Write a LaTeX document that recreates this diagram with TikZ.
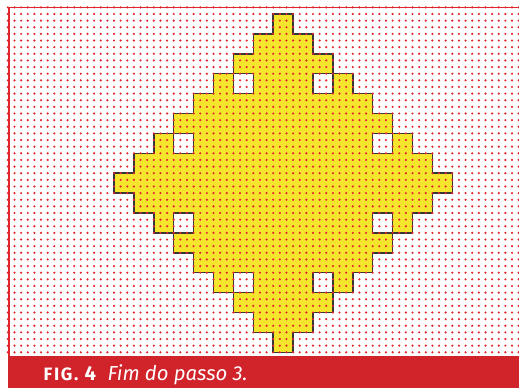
\documentclass[tikz,border=0pt]{standalone}
\usepackage{fontspec}
\setmainfont{Fira Sans}
\definecolor{dotred}{RGB}{226,36,44}
\definecolor{barred}{RGB}{208,35,42}
\definecolor{shapeyellow}{RGB}{245,230,45}
\definecolor{edgegray}{RGB}{55,55,55}
\tikzset{
  cellshape/.style={fill=shapeyellow},
  holecell/.style={fill=white},
  outline/.style={draw=edgegray,line width=1.5pt,line join=miter},
  dotrow/.style={draw=dotred,line width=2.4pt,line cap=round,dash pattern=on 0pt off 6.6333pt},
  frameline/.style={draw=dotred,line width=1.8pt},
  captext/.style={anchor=base west,inner sep=0pt,text=white}
}
\begin{document}
\begin{tikzpicture}[x=1pt,y=-1pt]
\useasboundingbox (0,0) rectangle (519,388);
\begin{scope}[shift={(114,14)},x=19.9pt,y=-19.9pt]
  \path[cellshape,outline] (8,0) -- (9,0) |- (10,1) |- (11,2) |- (12,3) |- (13,4) |- (14,5) |- (15,6) |- (16,7) |- (17,8) -- (17,9)
    -| (16,10) -| (15,11) -| (14,12) -| (13,13) -| (12,14) -| (11,15) -| (10,16) -| (9,17) -- (8,17)
    |- (7,16) |- (6,15) |- (5,14) |- (4,13) |- (3,12) |- (2,11) |- (1,10) |- (0,9) -- (0,8)
    -| (1,7) -| (2,6) -| (3,5) -| (4,4) -| (5,3) -| (6,2) -| (7,1) -| (8,0) -- cycle;
  \foreach \c/\r in {6/3,10/3,3/6,13/6,3/10,13/10,6/13,10/13}
    \path[holecell,outline] (\c,\r) rectangle ++(1,1);
\end{scope}
\foreach \j in {-1,...,51}
  \draw[dotrow] (7.87,14+6.6333*\j) -- (519,14+6.6333*\j);
\draw[frameline] (8,7.4) -- (519,7.4);
\draw[frameline] (8.9,6.5) -- (8.9,356);
\fill[barred] (8,355.5) rectangle (519,388);
\node[captext] (fig) at (43.5,380) {\fontsize{17.9}{17.9}\selectfont\bfseries\addfontfeature{LetterSpace=9}FIG.};
\node[captext] (num) at (84.5,380) {\fontsize{20.3}{20.3}\selectfont\bfseries 4};
\node[captext] (capt) at (107.5,380) {\fontsize{20.3}{20.3}\selectfont\itshape Fim do passo 3.};
\end{tikzpicture}
\end{document}
